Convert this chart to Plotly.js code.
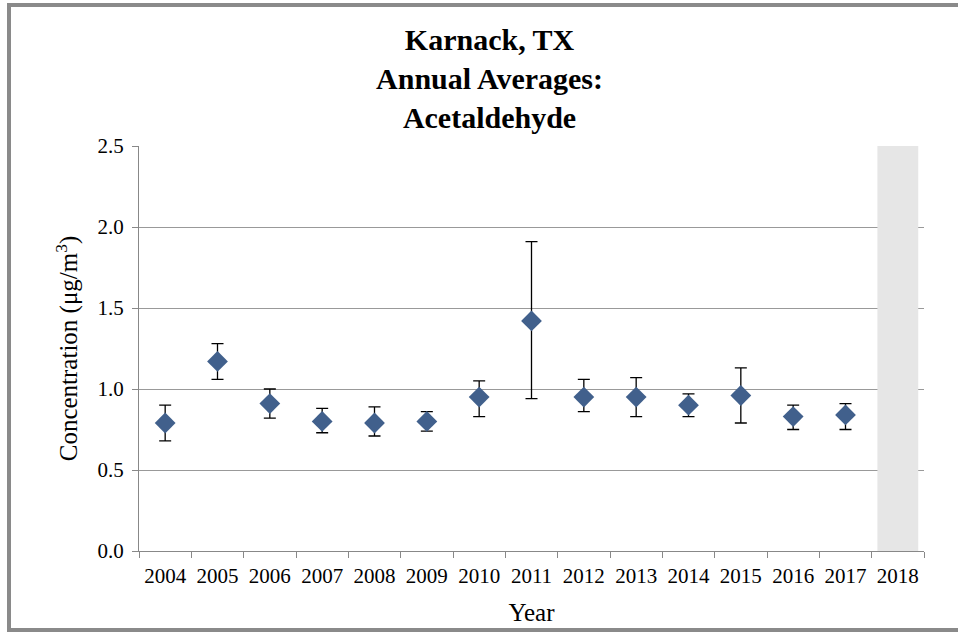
<!DOCTYPE html>
<html>
<head>
<meta charset="utf-8">
<script src="https://cdn.plot.ly/plotly-3.0.1.min.js"></script>
<style>
  body { margin: 0; background: #fff; }
  #plot { position: absolute; left: 0; top: 0; width: 958px; height: 632px; }
  #frame { position: absolute; left: 7px; top: 3px; width: 960px; height: 629px;
           border-left: 4px solid #8a8a8a; border-top: 4px solid #8a8a8a; border-bottom: 4px solid #8a8a8a;
           pointer-events: none; box-sizing: border-box; }
</style>
</head>
<body>
<div id="plot"></div>
<div id="frame"></div>
<script>
// annual averages with 95% confidence limits
var years = ['2004','2005','2006','2007','2008','2009','2010','2011','2012','2013','2014','2015','2016','2017','2018']
var avgYears = years.slice(0, 14)
var avg   = [0.79, 1.17, 0.91, 0.80, 0.79, 0.80, 0.95, 1.42, 0.95, 0.95, 0.90, 0.96, 0.83, 0.84]
var upper = [0.90, 1.28, 1.00, 0.88, 0.89, 0.86, 1.05, 1.91, 1.06, 1.07, 0.97, 1.13, 0.90, 0.91]
var lower = [0.68, 1.06, 0.82, 0.73, 0.71, 0.74, 0.83, 0.94, 0.86, 0.83, 0.83, 0.79, 0.75, 0.75]
// shaded year (incomplete data)
var shadedYears = ['2018']
var shadedTop = [2.5]

var font = 'Liberation Serif, Times New Roman, serif'

var plus = avg.map(function (v, i) { return upper[i] - v })
var minus = avg.map(function (v, i) { return v - lower[i] })

var shade = {
  x: shadedYears,
  y: shadedTop,
  type: 'bar',
  width: 0.78,
  marker: {color: '#e6e6e6'},
  hoverinfo: 'skip'
}

var trace = {
  x: avgYears,
  y: avg,
  type: 'scatter',
  mode: 'markers',
  marker: {symbol: 'diamond', size: 16, color: '#41608c'},
  error_y: {
    type: 'data',
    symmetric: false,
    array: plus,
    arrayminus: minus,
    color: '#000',
    thickness: 1.3,
    width: 6
  }
}

var layout = {
  width: 958,
  height: 632,
  showlegend: false,
  paper_bgcolor: '#fff',
  plot_bgcolor: '#fff',
  margin: {l: 139, r: 34, t: 146, b: 81},
  font: {family: font, color: '#000', size: 21},
  title: {
    text: '<b>Karnack, TX<br>Annual Averages:<br>Acetaldehyde</b>',
    font: {family: font, size: 30, color: '#000'},
    x: 0.511, xanchor: 'center',
    y: 0.921, yanchor: 'middle'
  },
  xaxis: {
    type: 'category',
    categoryorder: 'array',
    categoryarray: years,
    range: [-0.5, 14.5],
    tickson: 'boundaries',
    ticks: 'outside',
    ticklen: 6,
    tickcolor: '#888',
    ticklabelstandoff: 6,
    showline: true,
    linecolor: '#888',
    linewidth: 1,
    showgrid: false,
    tickfont: {family: font, size: 21},
    title: {text: 'Year', font: {family: font, size: 25}, standoff: 16}
  },
  yaxis: {
    range: [0, 2.5],
    dtick: 0.5,
    tickformat: '.1f',
    ticks: 'outside',
    ticklen: 6,
    tickcolor: '#888',
    ticklabelstandoff: 4,
    showline: true,
    linecolor: '#888',
    linewidth: 1,
    gridcolor: '#999',
    gridwidth: 1,
    zeroline: false,
    tickfont: {family: font, size: 21},
    title: {text: 'Concentration (μg/m<sup>3</sup>)', font: {family: font, size: 25}, standoff: 12}
  }
}

Plotly.newPlot('plot', [shade, trace], layout, {displayModeBar: false, staticPlot: true})
</script>
</body>
</html>
